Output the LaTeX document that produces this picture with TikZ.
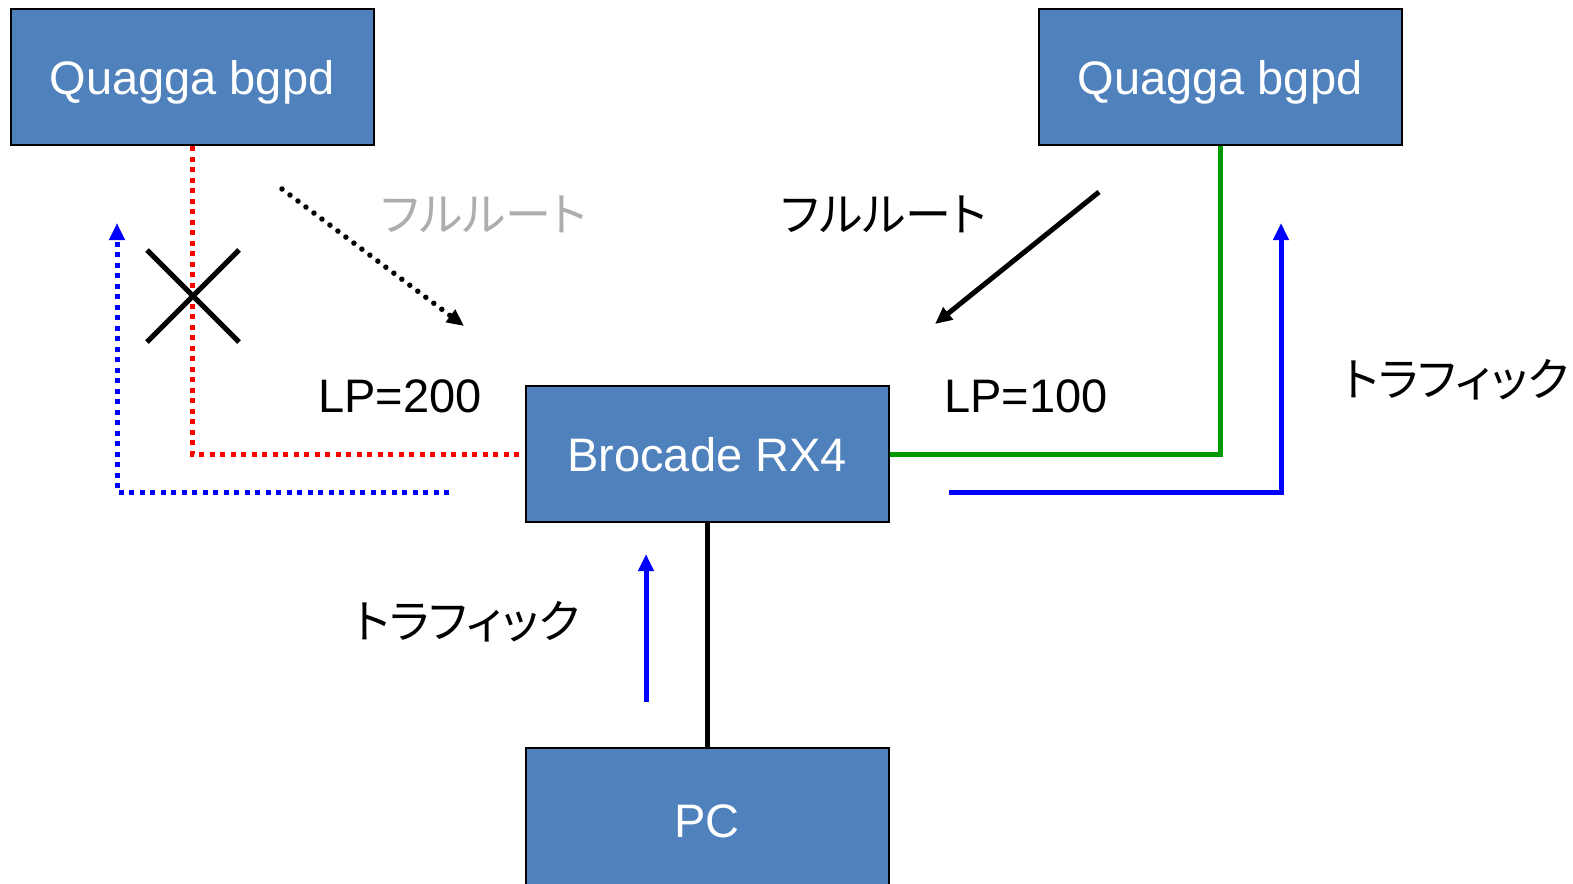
\documentclass[tikz,border=0pt]{standalone}
\usepackage{fontspec}
\setmainfont{Liberation Sans}
\newfontfamily\jafont[RawFeature=+palt]{Noto Sans CJK JP}
\usetikzlibrary{arrows.meta}
\tikzset{>={Triangle[width=15pt,length=17pt]}}
\definecolor{boxblue}{HTML}{4F81BD}
\definecolor{linkgreen}{HTML}{009A00}
\definecolor{fullgray}{HTML}{ADADAD}
\tikzset{
  router/.style={draw=black, line width=2pt, fill=boxblue, text=white,
    minimum width=363pt, minimum height=136pt, inner sep=0pt, text depth=0pt,
    font=\fontsize{47}{56}\selectfont},
  lbl/.style={inner sep=0pt, text depth=0pt, font=\fontsize{47}{56}\selectfont},
  jalbl/.style={inner sep=0pt, font=\fontsize{46}{54}\selectfont\jafont},
  deadlink/.style={draw=red, line width=5pt, dash pattern=on 5pt off 5.5pt},
  livelink/.style={draw=linkgreen, line width=5pt},
  deadflow/.style={->, draw=blue, line width=5pt, dash pattern=on 5pt off 5.5pt},
  liveflow/.style={->, draw=blue, line width=5pt},
  cutmark/.style={line width=5pt}
}
\newcommand{\FullRoute}{フルルート}
\newcommand{\Traffic}{トラフィック}

\begin{document}
\begin{tikzpicture}[x=1pt, y=-1pt]
  \useasboundingbox (0,0) rectangle (1573,883);

  % routers
  \node[router] (qleft)  at (192,77)  {Quagga bgpd};
  \node[router] (qright) at (1220,77) {Quagga bgpd};
  \node[router] (rx4)    at (707,454) {Brocade RX4};
  \node[router, minimum height=146pt] (pc) at (707,821) {PC};

  % links
  \draw[deadlink] (qleft.south) |- (rx4.west);
  \draw[livelink] (rx4.east) -| (qright.south);
  \draw[line width=5pt] (rx4.south) -- (pc.north);

  % broken session
  \coordinate (cut) at (193,296);
  \draw[cutmark] (cut) +(-46,-46) -- +(46,46);
  \draw[cutmark] (cut) +(46,-46) -- +(-46,46);

  % full routes
  \coordinate (frl0) at (282,189);
  \coordinate (frl1) at (464,326);
  \draw[->, line width=5.5pt, line cap=round, dash pattern=on 0pt off 10pt]
  (frl0) -- (frl1);
  \coordinate (frr0) at (1099,192);
  \coordinate (frr1) at (935,324);
  \draw[->, line width=5pt] (frr0) -- (frr1);

  \node[jalbl, text=fullgray] (frlabl) at (484,214) {\FullRoute};
  \node[jalbl] (frlabr) at (884,214) {\FullRoute};
  \node[lbl] (lp200) at (400,396) {LP=200};
  \node[lbl] (lp100) at (1026,396) {LP=100};

  % traffic
  \coordinate (tl0) at (449,492);
  \coordinate (tl1) at (117,223);
  \draw[deadflow] (tl0) -| (tl1);
  \coordinate (tr0) at (949,492);
  \coordinate (tr1) at (1281,223);
  \draw[liveflow] (tr0) -| (tr1);
  \coordinate (tp0) at (646,702);
  \coordinate (tp1) at (646,554);
  \draw[liveflow] (tp0) -- (tp1);

  \node[jalbl] (trafr) at (1456,380) {\Traffic};
  \node[jalbl] (trafl) at (467,622) {\Traffic};

\end{tikzpicture}
\end{document}
